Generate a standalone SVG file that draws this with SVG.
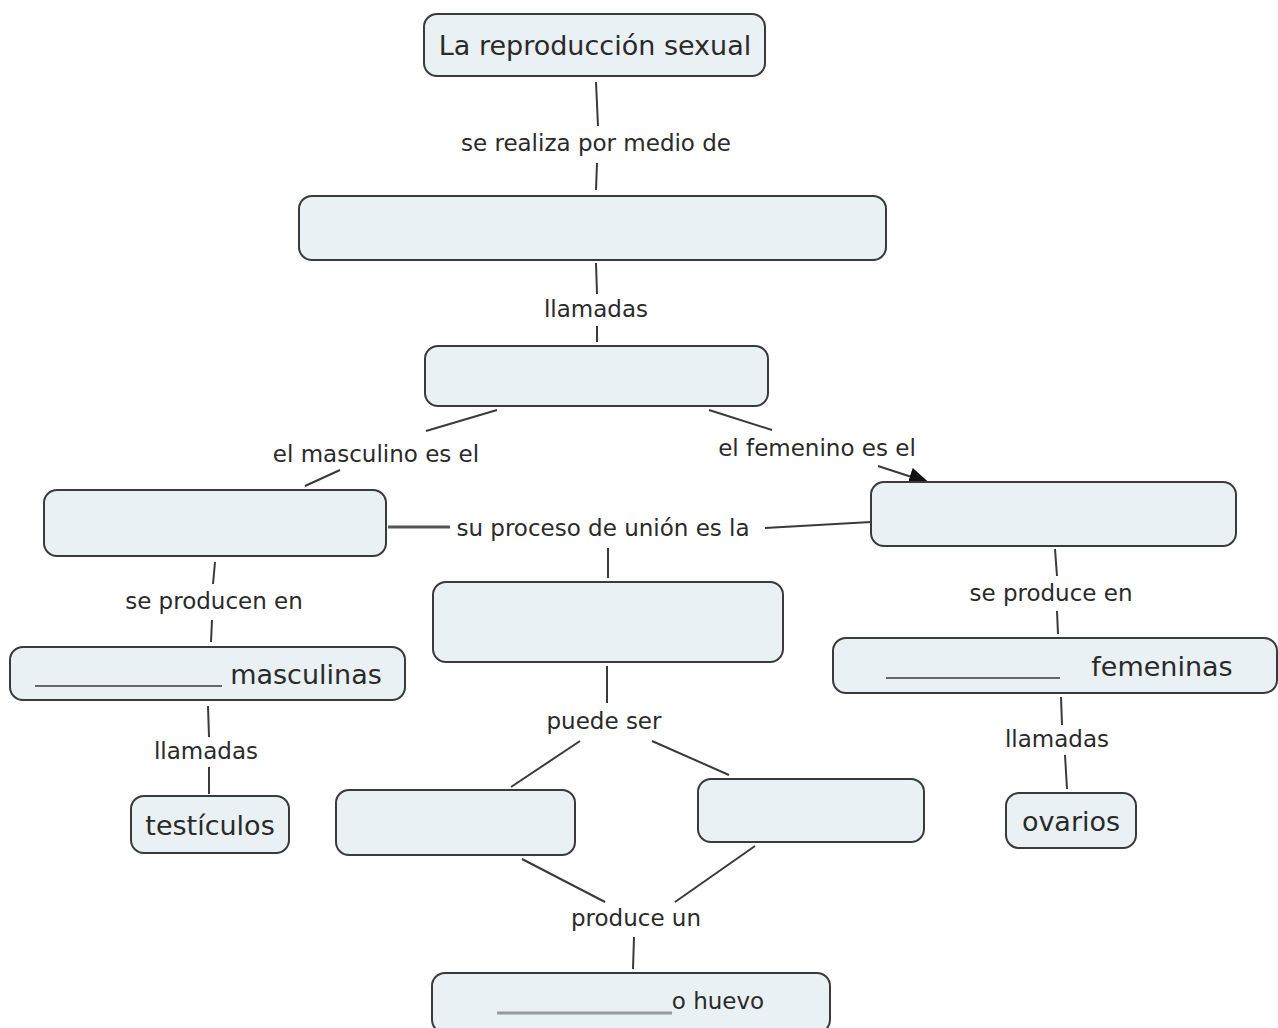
<svg xmlns="http://www.w3.org/2000/svg" width="1278" height="1028" viewBox="0 0 1278 1028">
<defs>
<style>
.n{fill:#e9f1f4;stroke:#3a3a3a;stroke-width:2}
.c{stroke:#3a3a3a;stroke-width:2;fill:none}
.l{font-family:"DejaVu Sans","Liberation Sans",sans-serif;font-size:23px;fill:#2a2a2a;text-anchor:middle}
.t{font-family:"DejaVu Sans","Liberation Sans",sans-serif;font-size:27px;fill:#2a2a2a;text-anchor:middle}
.u{stroke:#3a3a3a;stroke-width:1.5}
</style>
<marker id="ah" markerWidth="20" markerHeight="18" refX="18" refY="9" orient="auto" markerUnits="userSpaceOnUse" viewBox="0 0 20 18"><path d="M0,0 L20,9 L0,18 z" fill="#111"/></marker>
</defs>
<rect width="1278" height="1028" fill="#fff"/>
<g id="connectors">
<path class="c" d="M596,82 L598,126 M597,163 L596,190"/>
<text class="l" x="596" y="151">se realiza por medio de</text>
<path class="c" d="M596,263 L597,294 M597,326 L597,342"/>
<text class="l" x="596" y="317">llamadas</text>
<path class="c" d="M497,410 L426,431 M340,470 L305,486"/>
<text class="l" x="376" y="462">el masculino es el</text>
<path class="c" d="M709,410 L772,430"/>
<path class="c" d="M878,466 L927,482" marker-end="url(#ah)"/>
<text class="l" x="817" y="456">el femenino es el</text>
<path d="M388,527 L450,527" stroke="#555" stroke-width="3"/>
<path class="c" d="M765,528 L871,522 M608,548 L608,578"/>
<text class="l" x="603" y="536">su proceso de unión es la</text>
<path class="c" d="M215,562 L213,584 M212,620 L211,642"/>
<text class="l" x="214" y="609">se producen en</text>
<path class="c" d="M1055,549 L1057,576 M1057,611 L1058,634"/>
<text class="l" x="1051" y="601">se produce en</text>
<path class="c" d="M607,666 L607,703 M580,741 L511,787 M652,741 L729,775"/>
<text class="l" x="604" y="729">puede ser</text>
<path class="c" d="M208,706 L209,737 M209,767 L209,794"/>
<text class="l" x="206" y="759">llamadas</text>
<path class="c" d="M1061,697 L1062,725 M1065,755 L1067,789"/>
<text class="l" x="1057" y="747">llamadas</text>
<path class="c" d="M522,859 L605,902 M675,902 L755,846 M634,937 L633,969"/>
<text class="l" x="636" y="926">produce un</text>
</g>
<g id="n1"><rect class="n" x="424" y="14" width="341" height="62" rx="13"/><text class="t" x="595" y="55">La reproducción sexual</text></g>
<g id="n2"><rect class="n" x="299" y="196" width="587" height="64" rx="13"/></g>
<g id="n3"><rect class="n" x="425" y="346" width="343" height="60" rx="13"/></g>
<g id="n4"><rect class="n" x="44" y="490" width="342" height="66" rx="13"/></g>
<g id="n5"><rect class="n" x="871" y="482" width="365" height="64" rx="13"/></g>
<g id="n6"><rect class="n" x="433" y="582" width="350" height="80" rx="13"/></g>
<g id="n7"><rect class="n" x="10" y="647" width="395" height="53" rx="13"/><line class="u" x1="35" y1="686" x2="222" y2="686"/><text class="t" x="306" y="684">masculinas</text></g>
<g id="n8"><rect class="n" x="833" y="638" width="444" height="55" rx="13"/><line class="u" x1="886" y1="678" x2="1060" y2="678"/><text class="t" x="1162" y="676">femeninas</text></g>
<g id="n9"><rect class="n" x="131" y="796" width="158" height="57" rx="13"/><text class="t" x="210" y="835">testículos</text></g>
<g id="n10"><rect class="n" x="336" y="790" width="239" height="65" rx="13"/></g>
<g id="n11"><rect class="n" x="698" y="779" width="226" height="63" rx="13"/></g>
<g id="n12"><rect class="n" x="1006" y="793" width="130" height="55" rx="13"/><text class="t" x="1071" y="831">ovarios</text></g>
<g id="n13"><rect class="n" x="432" y="973" width="398" height="60" rx="13"/><line x1="497" y1="1013" x2="672" y2="1013" stroke="#999" stroke-width="3"/><text class="l" x="718" y="1009">o huevo</text></g>
</svg>
